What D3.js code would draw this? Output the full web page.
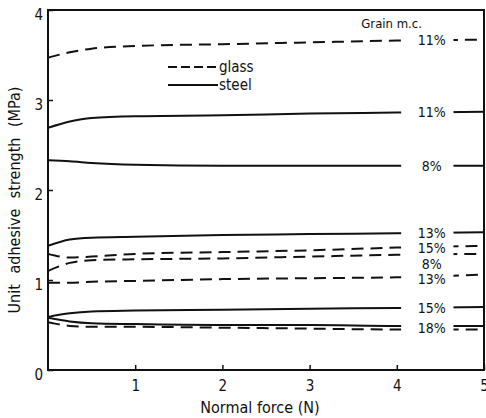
<!DOCTYPE html>
<html>
<head>
<meta charset="utf-8">
<script src="https://cdn.jsdelivr.net/npm/d3@7"></script>
<style>
  body { margin: 0; background: #fff; }
  svg text { font-family: "DejaVu Sans Condensed", "Liberation Sans Narrow", sans-serif; fill: #111; }
</style>
</head>
<body>
<div class="chart"></div>
<script>
// normal force samples (N)
const forces = [0, 0.25, 0.5, 1, 2, 3, 4, 5];

// unit adhesive strength (MPa) per curve
const glass11 = [3.47, 3.53, 3.57, 3.60, 3.62, 3.64, 3.66, 3.67];
const steel11 = [2.69, 2.76, 2.80, 2.82, 2.83, 2.85, 2.86, 2.87];
const steel8  = [2.33, 2.32, 2.30, 2.28, 2.27, 2.27, 2.27, 2.27];
const steel13 = [1.38, 1.45, 1.47, 1.48, 1.50, 1.51, 1.52, 1.53];
const glass15 = [1.29, 1.25, 1.26, 1.29, 1.31, 1.33, 1.36, 1.38];
const glass8  = [1.10, 1.19, 1.22, 1.23, 1.24, 1.26, 1.28, 1.29];
const glass13 = [0.97, 0.97, 0.98, 0.99, 1.01, 1.02, 1.03, 1.06];
const steel15 = [0.59, 0.63, 0.65, 0.66, 0.67, 0.68, 0.69, 0.70];
const steel18 = [0.58, 0.54, 0.52, 0.51, 0.50, 0.50, 0.49, 0.49];
const glass18 = [0.53, 0.49, 0.48, 0.48, 0.47, 0.46, 0.45, 0.45];

const series = [
  {surface: "glass", mc: "11%", values: glass11},
  {surface: "steel", mc: "11%", values: steel11},
  {surface: "steel", mc: "8%",  values: steel8},
  {surface: "steel", mc: "13%", values: steel13},
  {surface: "glass", mc: "15%", values: glass15},
  {surface: "glass", mc: "8%",  values: glass8},
  {surface: "glass", mc: "13%", values: glass13},
  {surface: "steel", mc: "15%", values: steel15},
  {surface: "steel", mc: "18%", values: steel18},
  {surface: "glass", mc: "18%", values: glass18}
];

const xTicks = [1, 2, 3, 4, 5];
const yTicks = [0, 1, 2, 3, 4];
const labelAt = 4.4;       // where curve labels sit (N)
const gap = [4.05, 4.65];  // curve break round the labels

const width = 486, height = 418;
const margin = {top: 10, right: 2, bottom: 48, left: 48};
const w = width - margin.left - margin.right;
const h = height - margin.top - margin.bottom;

const x = d3.scaleLinear().domain([0, 5]).range([0, w]);
const y = d3.scaleLinear().domain([0, 4]).range([h, 0]);

const svg = d3.select(".chart").append("svg")
  .attr("width", width)
  .attr("height", height);

const chart = svg.append("g")
  .attr("transform", "translate(" + margin.left + "," + margin.top + ")");

// clip that leaves room for the labels
const clip = svg.append("defs").append("clipPath").attr("id", "gapclip");
clip.append("rect").attr("x", x(0)).attr("y", -5).attr("width", x(gap[0]) - x(0)).attr("height", h + 10);
clip.append("rect").attr("x", x(gap[1])).attr("y", -5).attr("width", x(5) - x(gap[1])).attr("height", h + 10);

// axes, ticks inward
const xAxis = d3.axisBottom(x).tickValues(xTicks).tickSize(-5).tickPadding(10).tickFormat(d3.format("d"));
const yAxis = d3.axisLeft(y).tickValues(yTicks).tickSize(-5).tickPadding(5).tickFormat(d3.format("d"));

chart.append("g")
  .attr("transform", "translate(0," + h + ")")
  .call(xAxis)
  .call(g => g.select(".domain").remove())
  .call(g => g.selectAll("line").attr("stroke", "#111").attr("stroke-width", 1.5))
  .call(g => g.selectAll("text").attr("font-size", 15).attr("fill", "#111").attr("font-family", null));

chart.append("g")
  .call(yAxis)
  .call(g => g.select(".domain").remove())
  .call(g => g.selectAll("line").attr("stroke", "#111").attr("stroke-width", 1.5))
  .call(g => g.selectAll("text").attr("font-size", 15).attr("fill", "#111").attr("font-family", null).attr("dy", "0.65em"));

// frame
chart.append("rect")
  .attr("x", 0).attr("y", 0).attr("width", w).attr("height", h)
  .attr("fill", "none").attr("stroke", "#111").attr("stroke-width", 2);

const line = d3.line()
  .x((d, i) => x(forces[i]))
  .y(d => y(d))
  .curve(d3.curveMonotoneX);

chart.append("g")
  .attr("clip-path", "url(#gapclip)")
  .selectAll("path")
  .data(series)
  .join("path")
  .attr("d", d => line(d.values))
  .attr("fill", "none")
  .attr("stroke", "#111")
  .attr("stroke-width", 2)
  .attr("stroke-dasharray", d => d.surface === "glass" ? "12,7" : null);

// labels: start at the curve, merge equal neighbours, push apart
const interp = (vals, xv) => {
  const i = d3.bisectRight(forces, xv) - 1;
  const t = (xv - forces[i]) / (forces[i + 1] - forces[i]);
  return vals[i] + t * (vals[i + 1] - vals[i]);
};
let labels = series.map(s => ({text: s.mc, py: y(interp(s.values, labelAt))}))
  .sort((a, b) => a.py - b.py);
const merged = [];
labels.forEach(l => {
  const last = merged[merged.length - 1];
  if (last && last.text === l.text && Math.abs(l.py - last.py) < 8) {
    last.py = (last.py + l.py) / 2;
  } else merged.push(l);
});
for (let i = 1; i < merged.length; i++) {
  if (merged[i].py - merged[i - 1].py < 15.5) merged[i].py = merged[i - 1].py + 15.5;
}

chart.append("g")
  .selectAll("text")
  .data(merged)
  .join("text")
  .attr("x", x(labelAt))
  .attr("y", d => d.py)
  .attr("dy", "0.36em")
  .attr("text-anchor", "middle")
  .attr("font-size", 14)
  .text(d => d.text);

chart.append("text")
  .attr("x", x(4.3) - 1)
  .attr("y", 18)
  .attr("text-anchor", "end")
  .attr("font-size", 13)
  .text("Grain m.c.");

// legend
const legend = chart.append("g").attr("transform", "translate(120,57)");
[["glass", "9,4"], ["steel", null]].forEach((d, i) => {
  legend.append("line")
    .attr("x1", 0).attr("x2", 50)
    .attr("y1", i * 18).attr("y2", i * 18)
    .attr("stroke", "#111").attr("stroke-width", 2)
    .attr("stroke-dasharray", d[1]);
  legend.append("text")
    .attr("x", 51).attr("y", i * 18)
    .attr("dy", "0.32em")
    .attr("font-size", 15)
    .text(d[0]);
});

// axis titles
chart.append("text")
  .attr("x", w / 2 - 6)
  .attr("y", h + 43)
  .attr("text-anchor", "middle")
  .attr("font-size", 16)
  .text("Normal force (N)");

chart.append("text")
  .attr("transform", "translate(" + (-28) + "," + (h / 2 + 10) + ") rotate(-90)")
  .attr("text-anchor", "middle")
  .attr("font-size", 16)
  .attr("word-spacing", 6)
  .text("Unit adhesive strength (MPa)");
</script>
</body>
</html>
